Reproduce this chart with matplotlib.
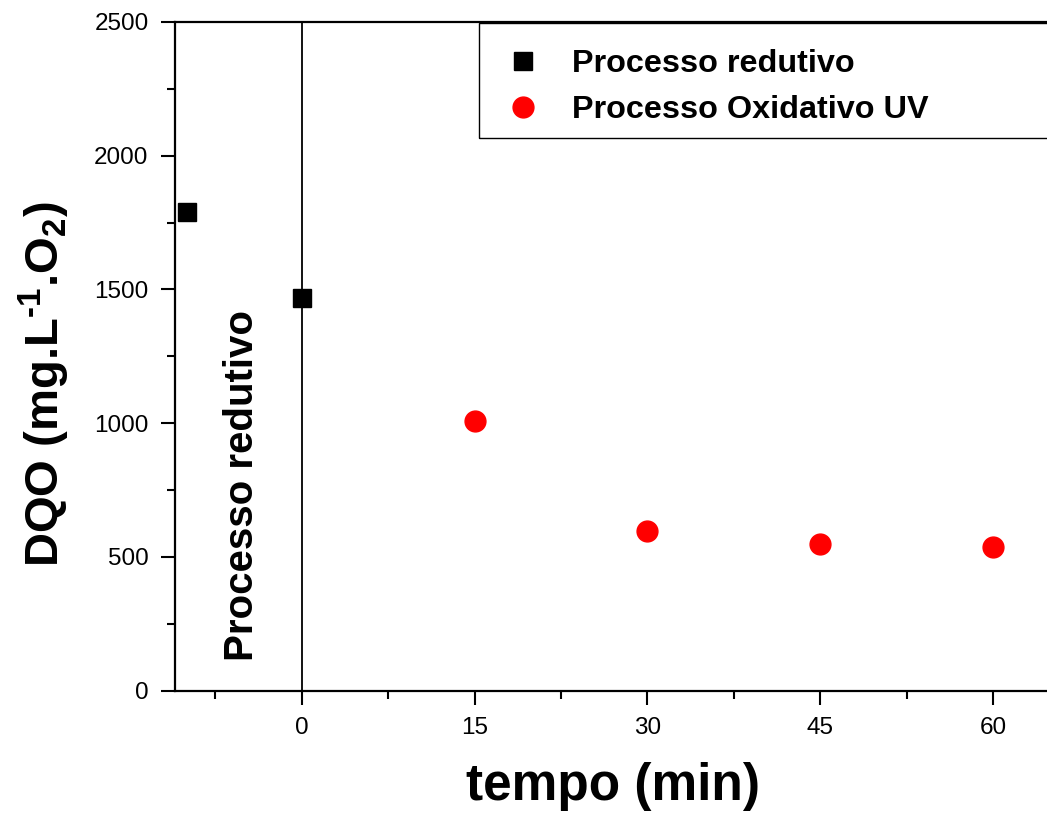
import matplotlib
matplotlib.use("Agg")
import matplotlib.pyplot as plt
from matplotlib.patches import Rectangle
from matplotlib.ticker import MultipleLocator, FixedLocator

plt.rcParams['font.family'] = ['Liberation Sans', 'DejaVu Sans']
plt.rcParams['mathtext.fontset'] = 'custom'
plt.rcParams['mathtext.rm'] = 'Liberation Sans:bold'
plt.rcParams['mathtext.bf'] = 'Liberation Sans:bold'
plt.rcParams['mathtext.it'] = 'Liberation Sans:bold'

# DQO measurements
tempo_redutivo = [-10, 0]
dqo_redutivo = [1790, 1467]
tempo_oxidativo = [15, 30, 45, 60]
dqo_oxidativo = [1008, 597, 550, 537]
xticks = [0, 15, 30, 45, 60]
yticks = [0, 500, 1000, 1500, 2000, 2500]

W, H = 1047, 816
fig = plt.figure(figsize=(W / 100, H / 100), dpi=100)
ax_left, ax_bottom, ax_top = 175, 690.7, 22
xmin, xmax = -11, 70
px_per_unit = 11.52
ax_w = (xmax - xmin) * px_per_unit
ax_h = ax_bottom - ax_top
ax = fig.add_axes([ax_left / W, 1 - ax_bottom / H, ax_w / W, ax_h / H])

ax.plot(tempo_redutivo, dqo_redutivo, 's', color='black', markersize=13.5,
        label='Processo redutivo', clip_on=False, zorder=5)
ax.plot(tempo_oxidativo, dqo_oxidativo, 'o', color='red', markersize=15,
        label='Processo Oxidativo UV', clip_on=False, zorder=5)

ax.axvline(0, color='black', linewidth=1.3, zorder=2)

ax.set_xlim(xmin, xmax)
ax.set_ylim(0, 2500)
ax.xaxis.set_major_locator(FixedLocator(xticks))
ax.xaxis.set_minor_locator(MultipleLocator(7.5))
ax.yaxis.set_major_locator(FixedLocator(yticks))
ax.yaxis.set_minor_locator(MultipleLocator(250))

for side in ['left', 'bottom', 'top', 'right']:
    ax.spines[side].set_linewidth(1.6)
ax.tick_params(which='major', direction='out', length=10, width=1.5,
               labelsize=17.5, pad=9)
ax.tick_params(which='minor', direction='out', length=6, width=1.5)
ax.tick_params(top=False, right=False, which='both')

ax.set_xlabel('tempo (min)', fontsize=37, fontweight='bold')
ax.xaxis.set_label_coords((613 - ax_left) / ax_w, (ax_bottom - 762) / ax_h)
ax.set_ylabel('DQO (mg.L$^{\\mathrm{\u2010 1}}$.O$_{\\mathrm{2}}$)', fontsize=34,
              fontweight='bold')
ax.yaxis.set_label_coords((72 - ax_left) / ax_w, (ax_bottom - 384) / ax_h)

ax.text(-5.2, 769, 'Processo redutivo', rotation=90, ha='center', va='center',
        fontsize=29, fontweight='bold')

# Legend box and entries
fig.patches.append(Rectangle((479 / W, 1 - 138 / H), (W + 20 - 479) / W, (138 - 23) / H,
                             transform=fig.transFigure, fill=False,
                             edgecolor='black', linewidth=1.0, zorder=10))
leg = ax.legend(loc='upper left', bbox_to_anchor=(507 / W, 1 - 49 / H),
                bbox_transform=fig.transFigure, frameon=False,
                prop={'weight': 'bold', 'size': 23.3}, handlelength=1.0,
                handletextpad=1.0, labelspacing=0.5, borderpad=0,
                borderaxespad=0, markerscale=1.0)

fig.savefig('out.png', dpi=100)
